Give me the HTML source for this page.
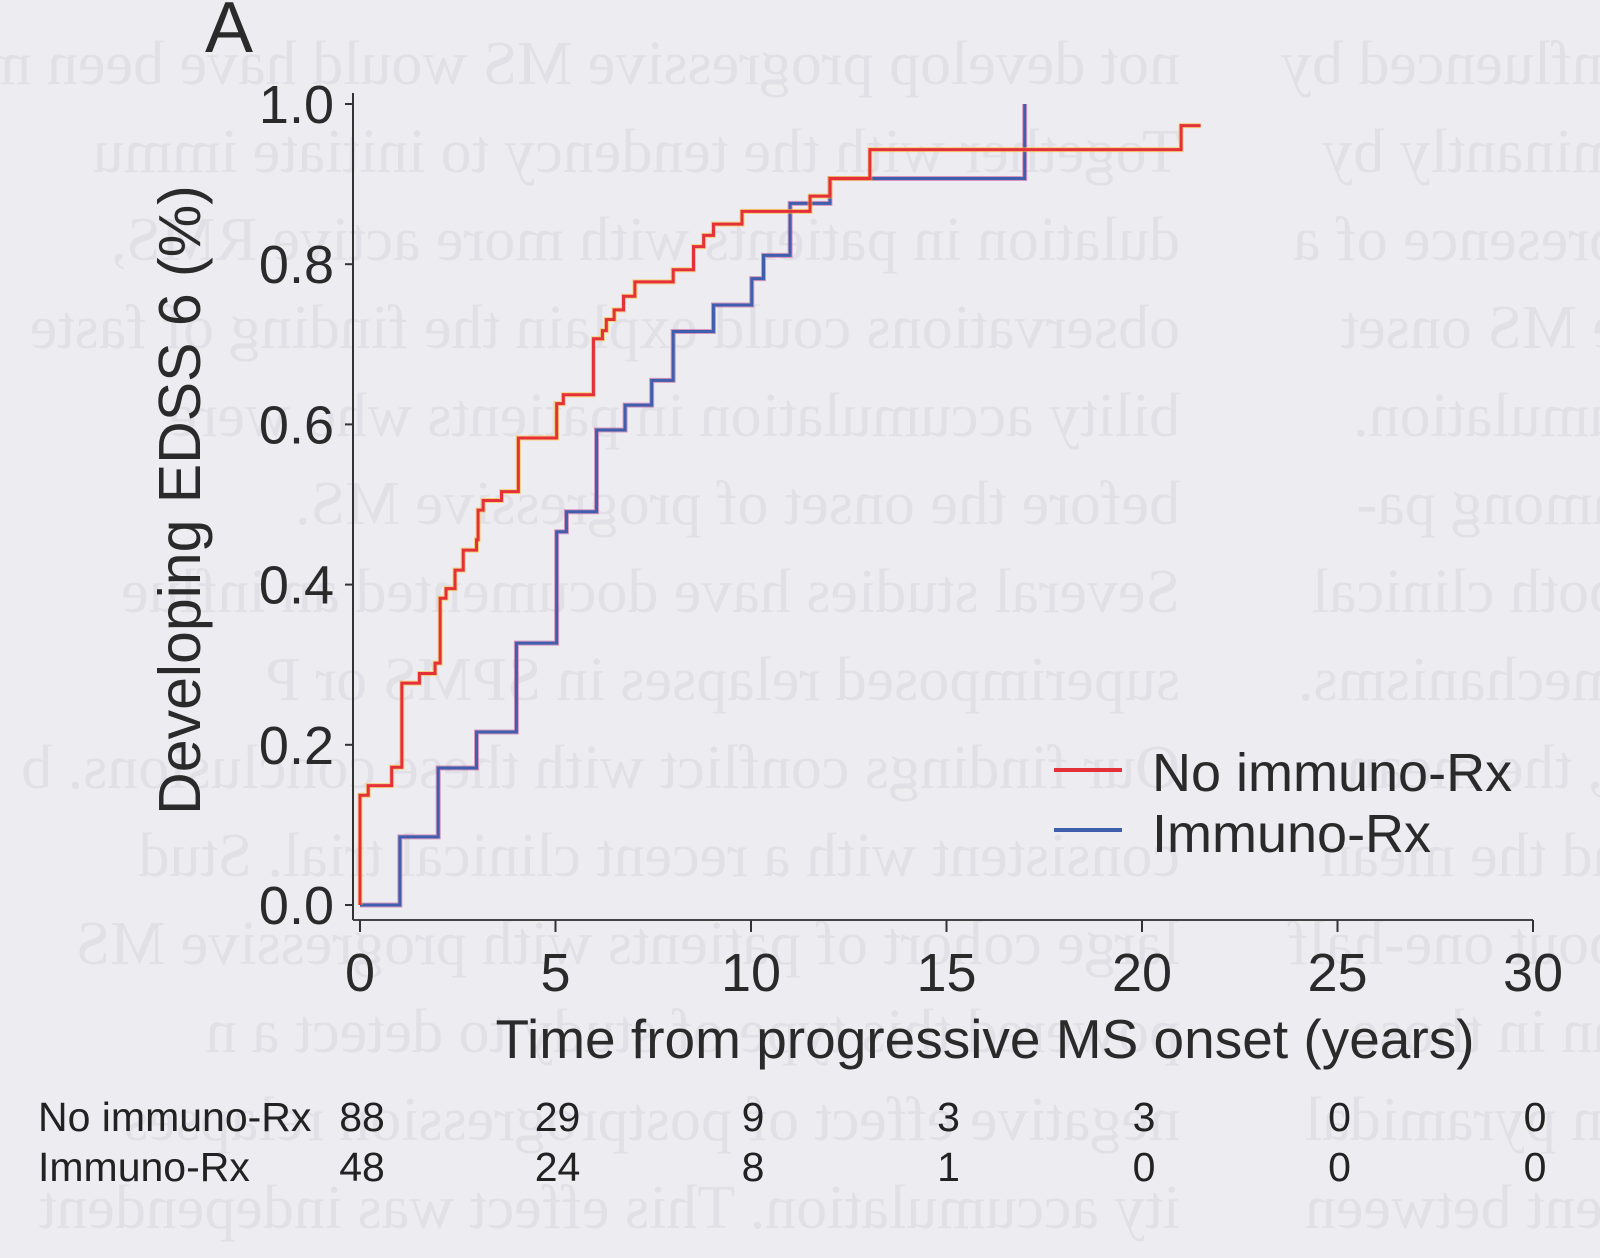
<!DOCTYPE html>
<html><head><meta charset="utf-8"><style>
html,body{margin:0;padding:0;background:#ededf1;}
body{width:1600px;height:1258px;position:relative;overflow:hidden;font-family:"Liberation Sans",Arial,sans-serif;}
.bleed{position:absolute;left:0;top:0;width:1600px;height:1258px;transform:scaleX(-1);color:#e0e0e6;font-family:"Liberation Serif",serif;font-size:62px;line-height:88px;white-space:nowrap;}
.bleed .c1{position:absolute;left:420px;top:20px;}
.bleed .c2{position:absolute;left:-20px;top:20px;}
</style></head><body>
<div class="bleed">
<div class="c1">not develop progressive MS would have been m<br>Together with the tendency to initiate immu<br>dulation in patients with more active RMS,<br>observations could explain the finding of faste<br>bility accumulation in patients who were<br>before the onset of progressive MS.<br>Several studies have documented an influe<br>superimposed relapses in SPMS or P<br>Our findings conflict with these conclusions. b<br>consistent with a recent clinical trial. Stud<br>large cohort of patients with progressive MS<br>powered this type of study to detect a n<br>negative effect of postprogression relapses<br>ity accumulation. This effect was independent</div>
<div class="c2">influenced by<br>minantly by<br>presence of a<br>e MS onset<br>umulation.<br>among pa-<br>both clinical<br>mechanisms.<br>t, the mean<br>ad the mean<br>bout one-half<br>an in those<br>in pyramidal<br>tent between</div>
</div>
<svg id="chart" width="1600" height="1258" style="position:absolute;left:0;top:0" xmlns="http://www.w3.org/2000/svg"></svg>
<script>
const redT=[0,0,0.21,0.81,1.07,1.52,1.92,2.05,2.2,2.43,2.64,2.98,3.02,3.15,3.62,4.05,5.03,5.2,5.97,6.2,6.3,6.5,6.74,7.03,8.01,8.53,8.79,9.04,9.77,11.51,12.02,13.04,21.0,21.5];
const redV=[0,0.137,0.149,0.172,0.277,0.289,0.302,0.383,0.395,0.418,0.443,0.456,0.493,0.505,0.516,0.583,0.626,0.637,0.707,0.717,0.731,0.743,0.760,0.778,0.793,0.822,0.836,0.850,0.866,0.885,0.907,0.943,0.973,0.973];
const blueT=[0,1.02,2.0,2.98,4.0,5.03,5.28,6.05,6.78,7.46,8.01,9.04,10.02,10.32,11.0,12.02,17.0];
const blueV=[0,0.085,0.171,0.216,0.327,0.466,0.491,0.593,0.624,0.655,0.716,0.749,0.782,0.811,0.876,0.907,1.0];
const xTicks=[0,5,10,15,20,25,30];
const yTicks=[0,0.2,0.4,0.6,0.8,1.0];
const riskNo=["88","29","9","3","3","0","0"];
const riskImm=["48","24","8","1","0","0","0"];
const NS="http://www.w3.org/2000/svg";
const svg=document.getElementById('chart');
const X=t=>360+t*39.1, Y=v=>905-v*801;
function mk(tag,attrs,parent){const e=document.createElementNS(NS,tag);for(const k in attrs)e.setAttribute(k,attrs[k]);(parent||svg).appendChild(e);return e;}
function txt(s,attrs){const e=mk('text',attrs);e.textContent=s;return e;}
let a=txt('A',{x:205,y:52,'font-size':72,fill:'#2a2a2a','font-family':'Liberation Sans'});


let ya=mk('line',{x1:353,y1:93,x2:353,y2:920,stroke:'#333','stroke-width':2});


let xa=mk('line',{x1:353,y1:920,x2:1533,y2:920,stroke:'#444','stroke-width':2});


yTicks.forEach(v=>{
  mk('line',{x1:345,y1:Y(v),x2:353,y2:Y(v),stroke:'#333','stroke-width':2});
  const l=txt(v.toFixed(1),{x:334,y:Y(v)+19,'text-anchor':'end','font-size':54,fill:'#2a2a2a'});
  
  
});
xTicks.forEach((t,i)=>{
  mk('line',{x1:X(t),y1:920,x2:X(t),y2:932,stroke:'#333','stroke-width':2});
  const l=txt(String(t),{x:X(t),y:991,'text-anchor':'middle','font-size':54,fill:'#2a2a2a'});
  
  
  const r1=txt(riskNo[i],{x:X(t)+2,y:1131,'text-anchor':'middle','font-size':41,fill:'#222'});
  
  
  const r2=txt(riskImm[i],{x:X(t)+2,y:1181,'text-anchor':'middle','font-size':41,fill:'#222'});
  
  
});
let yt=txt('Developing EDSS 6 (%)',{x:0,y:0,'text-anchor':'middle','font-size':59,fill:'#2a2a2a',transform:'translate(200,500) rotate(-90)'});


let xt=txt('Time from progressive MS onset (years)',{x:985,y:1058,'text-anchor':'middle','font-size':55,fill:'#2a2a2a'});


let rl1=txt('No immuno-Rx',{x:38,y:1131,'font-size':41,fill:'#222'});


let rl2=txt('Immuno-Rx',{x:38,y:1181,'font-size':41,fill:'#222'});


function stepPath(T,V){let d='M'+X(T[0])+','+Y(V[0]);for(let i=1;i<T.length;i++){d+=' H'+X(T[i])+' V'+Y(V[i]);}return d;}
let bp=mk('path',{d:stepPath(blueT,blueV),fill:'none',stroke:'#c0408a','stroke-width':5,opacity:0.5});


let b=mk('path',{d:stepPath(blueT,blueV),fill:'none',stroke:'#3f5fae','stroke-width':3});


let rp=mk('path',{d:stepPath(redT,redV),fill:'none',stroke:'#f5c030','stroke-width':5,opacity:0.6});


let r=mk('path',{d:stepPath(redT,redV),fill:'none',stroke:'#e5303a','stroke-width':3});


let l1=mk('line',{x1:1054,y1:770,x2:1122,y2:770,stroke:'#e5303a','stroke-width':4});


let l2=mk('line',{x1:1054,y1:830,x2:1122,y2:830,stroke:'#3f5fae','stroke-width':4});


let lt1=txt('No immuno-Rx',{x:1152,y:791,'font-size':54,fill:'#2a2a2a'});


let lt2=txt('Immuno-Rx',{x:1152,y:852,'font-size':54,fill:'#2a2a2a'});


</script>
</body></html>
